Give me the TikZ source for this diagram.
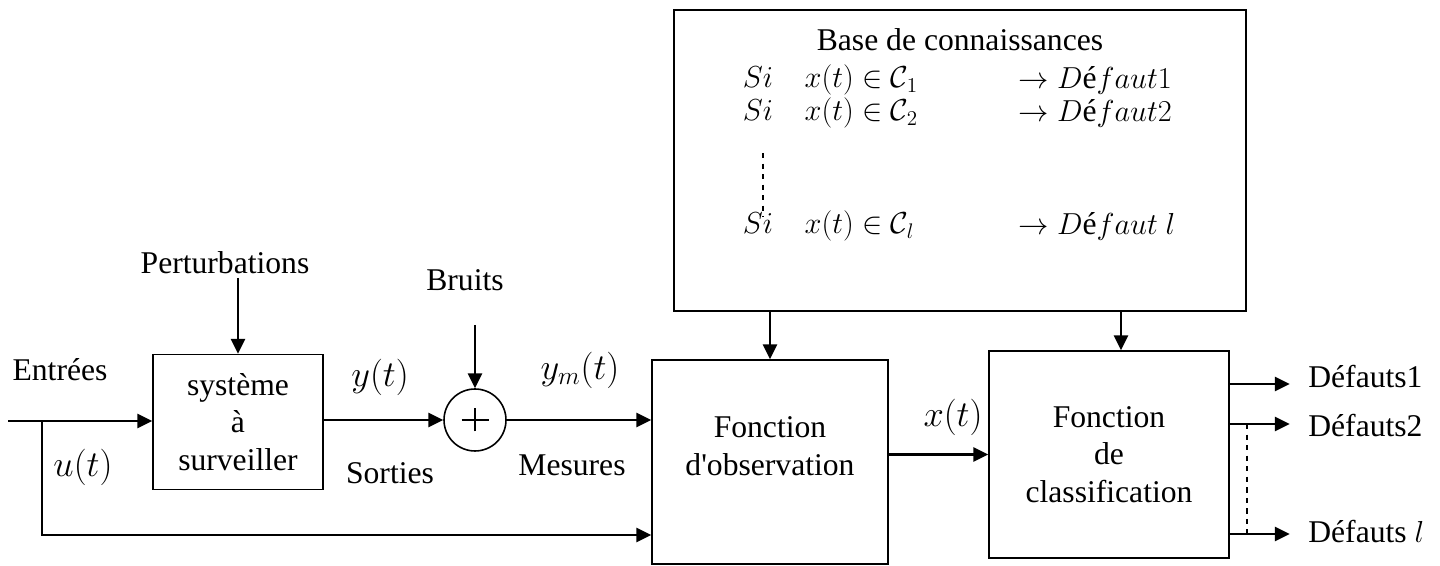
\documentclass[tikz,border=0pt]{standalone}
\usepackage{fontspec}
\setmainfont{Liberation Serif}
\usetikzlibrary{arrows.meta,positioning,calc}

\begin{document}
\begin{tikzpicture}[
  font=\fontsize{18}{21.5}\selectfont,
  box/.style={draw,line width=0.9pt,align=center,inner sep=0pt},
  sumnode/.style={draw,circle,line width=0.9pt,minimum size=1.24cm,inner sep=0pt},
  lbl/.style={inner sep=0pt,align=center},
  mlbl/.style={lbl,font=\fontsize{20}{24}\selectfont},
  arr/.style={-{Triangle[length=8.5pt,width=8pt]},line width=1.5pt},
  dline/.style={dashed,line width=0.9pt}]
  \useasboundingbox (0,0) rectangle (28.8,11.32);
  % ---- blocks
  \node[box,minimum width=3.4cm,minimum height=2.7cm] (sys) at (4.76,2.88) {système\\à\\surveiller};
  \node[sumnode] (sum) at (9.5,2.92) {};
  \node[box,minimum width=4.72cm,minimum height=4.08cm] (obs) at (15.4,2.08) {};
  \node[lbl] (obstxt) at (15.4,2.4) {Fonction\\d\textquotesingle observation};
  \node[box,minimum width=4.8cm,minimum height=4.14cm] (cls) at (22.18,2.23) {Fonction\\de\\classification};
  \node[box,minimum width=11.44cm,minimum height=6.02cm] (kb) at (19.2,8.11) {};
  \draw[line width=0.8pt] ($(sum.center)+(-0.27,0)$) -- ($(sum.center)+(0.27,0)$);
  \draw[line width=0.8pt] ($(sum.center)+(0,-0.23)$) -- ($(sum.center)+(0,0.23)$);
  % ---- knowledge base
  \node[lbl] (kbt) at (19.2,10.52) {Base de connaissances};
  \node[lbl,anchor=west] (r1) at (14.85,9.72) {$Si\quad x(t)\in\mathcal{C}_1$};
  \node[lbl,anchor=west] (r2) at (14.85,9.06) {$Si\quad x(t)\in\mathcal{C}_2$};
  \node[lbl,anchor=west] (rl) at (14.85,6.8) {$Si\quad x(t)\in\mathcal{C}_l$};
  \node[lbl,anchor=west] (f1) at (20.36,9.72) {$\rightarrow D\mbox{é}faut1$};
  \node[lbl,anchor=west] (f2) at (20.36,9.06) {$\rightarrow D\mbox{é}faut2$};
  \node[lbl,anchor=west] (fl) at (20.36,6.8) {$\rightarrow D\mbox{é}faut\ l$};
  \draw[dline] (15.26,8.26) -- (15.26,6.98);
  % ---- labels
  \node[lbl] (pert) at (4.5,6.06) {Perturbations};
  \node[lbl] (bruit) at (9.3,5.72) {Bruits};
  \node[lbl] (entr) at (1.2,3.92) {Entrées};
  \node[mlbl] (ut) at (1.66,1.98) {$u(t)$};
  \node[mlbl] (yt) at (7.6,3.78) {$y(t)$};
  \node[lbl] (sort) at (7.8,1.86) {Sorties};
  \node[mlbl] (ymt) at (11.6,3.92) {$y_m(t)$};
  \node[lbl] (mes) at (11.44,2.02) {Mesures};
  \node[mlbl] (xt) at (19.06,2.98) {$x(t)$};
  \node[lbl,anchor=west] (d1) at (26.16,3.78) {Défauts1};
  \node[lbl,anchor=west] (d2) at (26.16,2.8) {Défauts2};
  \node[lbl,anchor=west] (dl) at (26.16,0.68) {Défauts $l$};
  % ---- free ends
  \coordinate (in) at (0.16,2.9);
  \coordinate (br) at (0.84,2.9);
  \coordinate (ub) at (0.84,0.62);
  \coordinate (bn) at (9.5,4.82);
  % ---- arrows
  \draw[arr] (in) -- (in -| sys.west);
  \draw[arr] (br) -- (ub) -- (ub -| obs.west);
  \draw[arr] ([yshift=-2pt]pert.south -| sys.north) -- (sys.north);
  \draw[arr] (bn) -- (sum.north);
  \draw[arr] (sum.west -| sys.east) -- (sum.west);
  \draw[arr] (sum.east) -- (sum.east -| obs.west);
  \draw[arr] (obs.east |- cls.west) -- (cls.west);
  \draw[arr] (kb.south -| obs.north) -- (obs.north);
  \draw[arr] ([xshift=0.24cm]kb.south -| cls.north) -- ([xshift=0.24cm]cls.north);
  % ---- outputs
  \draw[arr] (cls.east |- 0,3.64) -- ++(1.2,0);
  \draw[arr] (cls.east |- 0,2.84) -- ++(1.2,0);
  \draw[arr] (cls.east |- 0,0.64) -- ++(1.2,0);
  \draw[dline] ($(cls.east |- 0,2.84)+(0.34,0)$) -- ($(cls.east |- 0,0.64)+(0.34,0)$);
\end{tikzpicture}
\end{document}
